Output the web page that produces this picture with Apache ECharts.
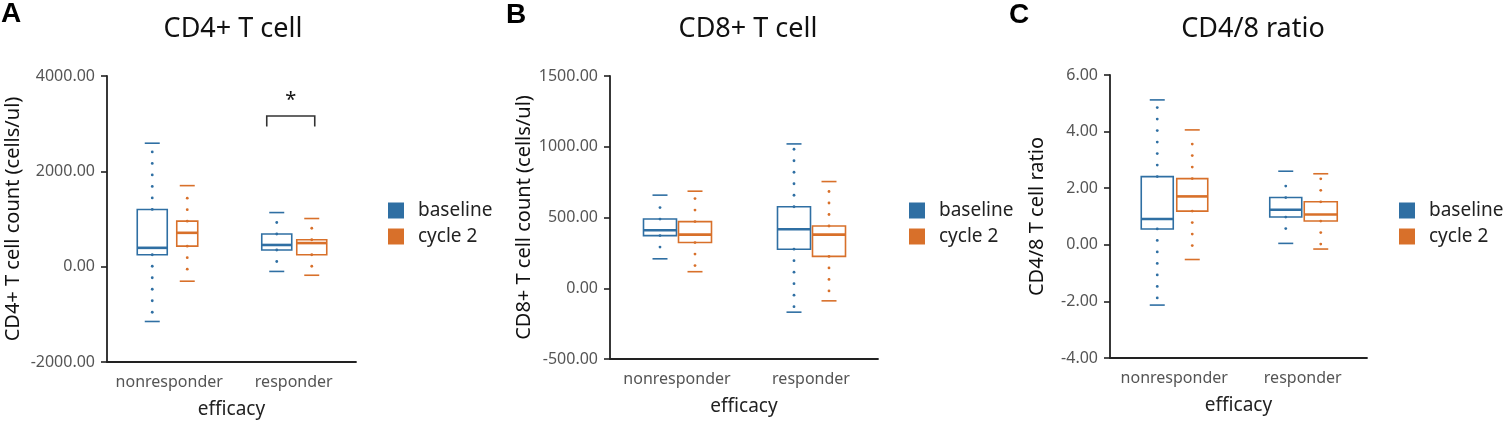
<!DOCTYPE html>
<html lang="en">
<head>
<meta charset="UTF-8">
<title>T cell boxplots</title>
<script src="https://cdn.jsdelivr.net/npm/echarts@6/dist/echarts.min.js"></script>
<style>
  html, body { margin: 0; padding: 0; background: #fff; }
  #chart { width: 1508px; height: 426px; }
</style>
</head>
<body>
<div id="chart"></div>
<script>
// data: [min, q1, median, q3, max] per category
const categories = ['nonresponder', 'responder'];
const groups = ['baseline', 'cycle 2'];

const cd4Baseline = [[-1150, 250, 395, 1200, 2590], [-100, 350, 455, 685, 1135]];
const cd4Cycle2 = [[-305, 430, 710, 955, 1700], [-180, 250, 495, 565, 1010]];
const cd8Baseline = [[208, 372, 410, 489, 658], [-169, 276, 417, 576, 1020]];
const cd8Cycle2 = [[117, 323, 379, 471, 686], [-89, 225, 379, 440, 754]];
const ratioBaseline = [[-2.13, 0.56, 0.91, 2.41, 5.12], [0.05, 0.98, 1.24, 1.67, 2.60]];
const ratioCycle2 = [[-0.52, 1.19, 1.71, 2.34, 4.06], [-0.15, 0.84, 1.07, 1.52, 2.51]];

// y axis ranges [min, max, interval]
const cd4Ticks = [-2000, 4000, 2000];
const cd8Ticks = [-500, 1500, 500];
const ratioTicks = [-4, 6, 2];

// significance bracket on CD4 responder: [bracket top, leg end, star]
const cd4Sig = [3160, 2940, 3500];

const blue = '#2f6fa3';
const orange = '#d8702a';
const axisColor = '#222';
const font = 'Noto Sans';

// panel layout
const panels = [
  { letter: 'A', title: 'CD4+ T cell', yName: 'CD4+ T cell count (cells/ul)', ticks: cd4Ticks,
    data: [cd4Baseline, cd4Cycle2], grid: { left: 107, top: 76, width: 249, height: 286 },
    letterX: 1, letterY: 0, titleX: 233, nameGap: 84, widths: [[30, 21], [30, 30]],
    legendX: 388 },
  { letter: 'B', title: 'CD8+ T cell', yName: 'CD8+ T cell count (cells/ul)', ticks: cd8Ticks,
    data: [cd8Baseline, cd8Cycle2], grid: { left: 610, top: 76, width: 268, height: 283 },
    letterX: 506, letterY: 1, titleX: 748, nameGap: 76, widths: [[33, 33], [33, 33]],
    legendX: 909 },
  { letter: 'C', title: 'CD4/8 ratio', yName: 'CD4/8 T cell ratio', ticks: ratioTicks,
    data: [ratioBaseline, ratioCycle2], grid: { left: 1110, top: 75, width: 257, height: 283 },
    letterX: 1009, letterY: 1, titleX: 1253, nameGap: 63, widths: [[32, 31], [32, 33]],
    legendX: 1399 }
];

const offsets = [-17, 18];
const dotStep = 11.5;

// dotted whisker as little circles from the box edge to the cap
function whiskerDots(cx, yFrom, yTo, color) {
  const dots = [];
  const dir = yTo > yFrom ? 1 : -1;
  const len = Math.abs(yTo - yFrom);
  for (let d = 0; d < len - 4; d += dotStep) {
    dots.push({ type: 'circle', shape: { cx: cx, cy: yFrom + dir * d, r: 1.4 },
      style: { fill: color } });
  }
  return dots;
}

function boxRenderer(offset, widths) {
  return function (params, api) {
    const cat = api.value(0);
    const w = widths[params.dataIndex];
    const color = api.visual('color');
    const cx = api.coord([cat, 0])[0] + offset;
    const y = [1, 2, 3, 4, 5].map(i => api.coord([cat, api.value(i)])[1]);
    const solid = { stroke: color, lineWidth: 1.6 };
    return {
      type: 'group',
      children: [
        { type: 'line', shape: { x1: cx - 7.5, y1: y[4], x2: cx + 7.5, y2: y[4] }, style: solid },
        { type: 'line', shape: { x1: cx - 7.5, y1: y[0], x2: cx + 7.5, y2: y[0] }, style: solid },
        { type: 'rect', shape: { x: cx - w / 2, y: y[3], width: w, height: y[1] - y[3] },
          style: { fill: '#fff', stroke: color, lineWidth: 1.6 } },
        { type: 'line', shape: { x1: cx - w / 2, y1: y[2], x2: cx + w / 2, y2: y[2] },
          style: { stroke: color, lineWidth: 2.6 } }
      ].concat(whiskerDots(cx, y[3], y[4], color), whiskerDots(cx, y[1], y[0], color))
    };
  };
}

const titles = [], grids = [], xAxes = [], yAxes = [], legends = [], series = [];

panels.forEach((p, k) => {
  titles.push({ text: p.letter, left: p.letterX, top: p.letterY, padding: 0,
    textStyle: { fontFamily: 'Liberation Sans', fontWeight: 'bold', fontSize: 28, color: '#000' } });
  titles.push({ text: p.title, left: p.titleX, top: 16, padding: 0, textAlign: 'center',
    textStyle: { fontFamily: font, fontWeight: 'normal', fontSize: 27, color: '#111' } });
  grids.push(p.grid);
  xAxes.push({
    gridIndex: k, type: 'category', data: categories,
    name: 'efficacy', nameLocation: 'middle', nameGap: 38,
    nameTextStyle: { fontFamily: font, fontSize: 19, color: '#222' },
    axisLine: { show: true, onZero: false, lineStyle: { color: axisColor, width: 1.8 } },
    axisTick: { show: false },
    axisLabel: { interval: 0, fontFamily: font, fontSize: 16, color: '#555', margin: 12 }
  });
  yAxes.push({
    gridIndex: k, type: 'value', min: p.ticks[0], max: p.ticks[1], interval: p.ticks[2],
    name: p.yName, nameLocation: 'middle', nameGap: p.nameGap,
    nameTextStyle: { fontFamily: font, fontSize: 20, color: '#111' },
    splitLine: { show: false },
    axisLine: { show: true, onZero: false, lineStyle: { color: axisColor, width: 1.8 } },
    axisTick: { show: true, length: 6, lineStyle: { color: axisColor, width: 1.6 } },
    axisLabel: { fontFamily: font, fontSize: 16, color: '#555', margin: 12,
      formatter: v => v.toFixed(2) }
  });
  legends.push({
    data: groups, orient: 'vertical', left: p.legendX, top: 201, icon: 'rect',
    itemWidth: 16, itemHeight: 16, itemGap: 7, padding: 0,
    textStyle: { fontFamily: font, fontSize: 19, color: '#222', padding: [0, 0, 0, 9] }
  });
  groups.forEach((g, j) => {
    const widths = p.widths.map(row => row[j]);
    series.push({
      type: 'custom', name: g, xAxisIndex: k, yAxisIndex: k,
      itemStyle: { color: j === 0 ? blue : orange },
      renderItem: boxRenderer(offsets[j], widths),
      encode: { x: 0, y: [1, 2, 3, 4, 5] },
      data: p.data[j].map((b, i) => [i].concat(b))
    });
  });
});

// significance bracket over CD4 responder
series.push({
  type: 'custom', xAxisIndex: 0, yAxisIndex: 0, silent: true,
  encode: { x: 0, y: [1, 2, 3] },
  renderItem: function (params, api) {
    const cat = api.value(0);
    const cx = api.coord([cat, 0])[0];
    const yTop = api.coord([cat, api.value(1)])[1];
    const yLeg = api.coord([cat, api.value(2)])[1];
    const yStar = api.coord([cat, api.value(3)])[1];
    return {
      type: 'group',
      children: [
        { type: 'polyline',
          shape: { points: [[cx - 27, yLeg], [cx - 27, yTop], [cx + 21, yTop], [cx + 21, yLeg]] },
          style: { stroke: '#333', lineWidth: 1.6, fill: null } },
        { type: 'text',
          style: { text: '*', x: cx - 3, y: yStar, align: 'center', verticalAlign: 'middle',
            font: '20px "Noto Sans"', fill: '#111' } }
      ]
    };
  },
  data: [[1].concat(cd4Sig)]
});

const chart = echarts.init(document.getElementById('chart'));
chart.setOption({
  animation: false,
  title: titles,
  grid: grids,
  xAxis: xAxes,
  yAxis: yAxes,
  legend: legends,
  series: series
});
</script>
</body>
</html>
